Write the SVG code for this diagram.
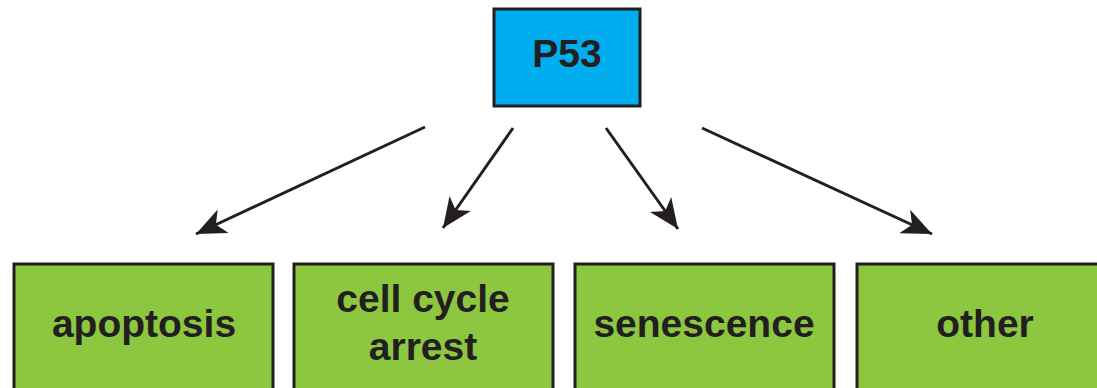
<svg xmlns="http://www.w3.org/2000/svg" width="1097" height="388" viewBox="0 0 1097 388">
<style>
.box{stroke:#231F20;stroke-width:3}
.top{fill:#00AEEF}
.leaf{fill:#8DC63F}
.lbl{font-family:"Liberation Sans",Arial,sans-serif;font-weight:bold;font-size:39px;fill:#231F20;text-anchor:middle}
.conn{stroke:#231F20;stroke-width:3;fill:none;marker-end:url(#ah)}
</style>
<defs>
<marker id="ah" markerUnits="userSpaceOnUse" markerWidth="34" markerHeight="30" refX="30" refY="13" orient="auto" viewBox="0 0 34 26">
<path d="M30,13 L0,0 L8,13 L0,26 Z" fill="#231F20"/>
</marker>
</defs>
<rect width="1097" height="388" fill="#ffffff"/>
<g id="connectors">
<line class="conn" x1="425" y1="127" x2="196" y2="234"/>
<line class="conn" x1="513" y1="128" x2="443" y2="228"/>
<line class="conn" x1="606" y1="128" x2="678" y2="229"/>
<line class="conn" x1="702" y1="128" x2="932" y2="234"/>
</g>
<g id="p53">
<rect class="box top" x="494" y="9" width="146" height="97"/>
<text class="lbl" x="567" y="67">P53</text>
</g>
<g id="apoptosis">
<rect class="box leaf" x="14" y="264" width="259" height="140"/>
<text class="lbl" x="144" y="337">apoptosis</text>
</g>
<g id="cell-cycle-arrest">
<rect class="box leaf" x="294" y="264" width="259" height="140"/>
<text class="lbl" x="423" y="312">cell cycle</text>
<text class="lbl" x="423" y="360">arrest</text>
</g>
<g id="senescence">
<rect class="box leaf" x="575" y="264" width="259" height="140"/>
<text class="lbl" x="704" y="337">senescence</text>
</g>
<g id="other">
<rect class="box leaf" x="857" y="264" width="259" height="140"/>
<text class="lbl" x="985" y="337">other</text>
</g>
</svg>
